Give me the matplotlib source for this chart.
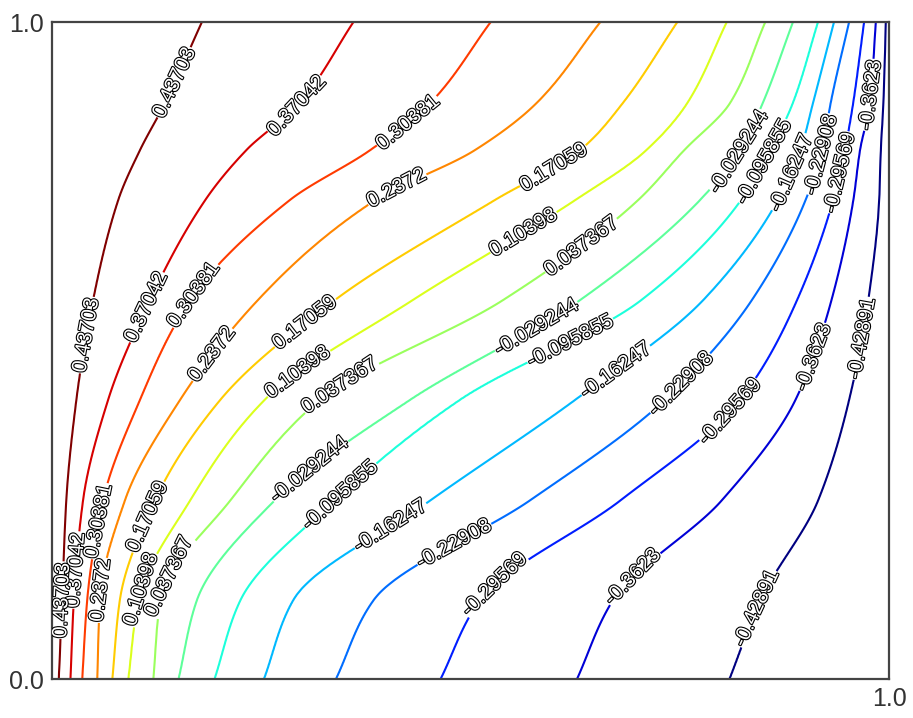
import numpy as np
import matplotlib
matplotlib.use('Agg')
import matplotlib.pyplot as plt
import matplotlib.patheffects as pe

plt.rcParams['font.family'] = ['Liberation Sans', 'DejaVu Sans']

# contour levels (as printed on the labels)
levels = [-0.42891, -0.3623, -0.29569, -0.22908, -0.16247, -0.095855,
          -0.029244, 0.037367, 0.10398, 0.17059, 0.2372, 0.30381,
          0.37042, 0.43703]

row_y = [0.0, 0.120, 0.272, 0.425, 0.577, 0.729, 0.805, 0.877, 1.0]

# x crossings per row, ordered from the highest level (left) to the lowest (right)
cross_y000 = [0.008, 0.022, 0.036, 0.054, 0.072, 0.091, 0.121, 0.151, 0.194, 0.253, 0.339, 0.464, 0.627, 0.809]
cross_y012 = [0.012, 0.026, 0.042, 0.057, 0.081, 0.103, 0.129, 0.173, 0.225, 0.288, 0.384, 0.511, 0.670, 0.846]
cross_y027 = [0.017, 0.037, 0.061, 0.087, 0.123, 0.165, 0.213, 0.266, 0.338, 0.452, 0.571, 0.679, 0.800, 0.915]
cross_y043 = [0.029, 0.067, 0.105, 0.153, 0.201, 0.254, 0.320, 0.428, 0.487, 0.625, 0.732, 0.822, 0.888, 0.952]
cross_y058 = [0.049, 0.117, 0.165, 0.246, 0.338, 0.431, 0.539, 0.631, 0.704, 0.778, 0.836, 0.890, 0.931, 0.975]
cross_y073 = [0.079, 0.183, 0.284, 0.386, 0.529, 0.625, 0.700, 0.774, 0.823, 0.867, 0.900, 0.933, 0.957, 0.988]
cross_y081 = [0.105, 0.232, 0.380, 0.505, 0.631, 0.710, 0.755, 0.822, 0.858, 0.894, 0.920, 0.947, 0.965, 0.990]
cross_y088 = [0.135, 0.296, 0.452, 0.579, 0.682, 0.759, 0.810, 0.849, 0.885, 0.909, 0.930, 0.957, 0.977, 0.993]
cross_y100 = [0.179, 0.360, 0.524, 0.655, 0.747, 0.806, 0.852, 0.885, 0.915, 0.934, 0.952, 0.970, 0.984, 0.996]

# field values at the left and right border
edge_left = 0.50
edge_right = -0.47

# label centres per level
label_pos = {
    0.43703: [(0.153, 0.904), (0.039, 0.524), (0.012, 0.120)],
    0.37042: [(0.296, 0.868), (0.105, 0.571), (0.028, 0.166)],
    0.30381: [(0.428, 0.843), (0.183, 0.571), (0.054, 0.241)],
    0.2372: [(0.416, 0.737), (0.183, 0.502), (0.061, 0.135)],
    0.17059: [(0.595, 0.790), (0.308, 0.533), (0.123, 0.242)],
    0.10398: [(0.565, 0.676), (0.296, 0.463), (0.111, 0.135)],
    0.037367: [(0.633, 0.658), (0.344, 0.447), (0.147, 0.150)],
    -0.029244: [(0.822, 0.801), (0.581, 0.531), (0.308, 0.318)],
    -0.095855: [(0.854, 0.785), (0.625, 0.498), (0.344, 0.280)],
    -0.16247: [(0.884, 0.770), (0.675, 0.467), (0.404, 0.234)],
    -0.22908: [(0.919, 0.798), (0.753, 0.447), (0.481, 0.204)],
    -0.29569: [(0.938, 0.772), (0.806, 0.412), (0.535, 0.135)],
    -0.3623: [(0.977, 0.889), (0.909, 0.490), (0.703, 0.143)],
    -0.42891: [(0.965, 0.519), (0.846, 0.105)],
}


def pchip(xk, yk, x):
    # monotone cubic through the read points
    xk = np.asarray(xk, float)
    yk = np.asarray(yk, float)
    h = np.diff(xk)
    d = np.diff(yk) / h
    m = np.zeros_like(yk)
    for k in range(1, len(xk) - 1):
        if d[k - 1] * d[k] > 0:
            w1 = 2 * h[k] + h[k - 1]
            w2 = h[k] + 2 * h[k - 1]
            m[k] = (w1 + w2) / (w1 / d[k - 1] + w2 / d[k])
    m[0] = d[0]
    m[-1] = d[-1]
    i = np.clip(np.searchsorted(xk, x) - 1, 0, len(xk) - 2)
    t = (x - xk[i]) / h[i]
    h00 = 2 * t**3 - 3 * t**2 + 1
    h10 = t**3 - 2 * t**2 + t
    h01 = -2 * t**3 + 3 * t**2
    h11 = t**3 - t**2
    return h00 * yk[i] + h10 * h[i] * m[i] + h01 * yk[i + 1] + h11 * h[i] * m[i + 1]


crossings = np.array([cross_y000, cross_y012, cross_y027, cross_y043, cross_y058,
                      cross_y073, cross_y081, cross_y088, cross_y100])
lev_desc = np.array(levels[::-1])

# build the field on a grid from the crossing table
xg = np.linspace(0, 1, 600)
yg = np.linspace(0, 1, 500)
cr = np.array([pchip(row_y, crossings[:, i], yg) for i in range(len(levels))])
cr = np.maximum.accumulate(cr, axis=0) + np.arange(len(levels))[:, None] * 1e-6
Z = np.zeros((len(yg), len(xg)))
for j in range(len(yg)):
    xs = np.concatenate([[0.0], cr[:, j], [1.0 + 1e-3]])
    vs = np.concatenate([[edge_left], lev_desc, [edge_right]])
    Z[j] = np.interp(xg, xs, vs)
X, Y = np.meshgrid(xg, yg)

fig = plt.figure(figsize=(9.13, 7.18), dpi=100)
ax = fig.add_axes([0.057, 0.0543, 0.917, 0.915])

cmap = plt.get_cmap('jet')
norm = plt.Normalize(min(levels), max(levels))
for lev in levels:
    cs = ax.contour(X, Y, Z, levels=[lev], colors=[cmap(norm(lev))],
                    linewidths=1.5, linestyles='solid')
    txts = ax.clabel(cs, manual=label_pos[lev], inline=True,
                     inline_spacing=1, fmt='%.5g', fontsize=15, colors='white')
    for t in txts:
        t.set_path_effects([pe.withStroke(linewidth=1.6, foreground='black')])

ax.set_xlim(0, 1)
ax.set_ylim(0, 1)
ax.set_xticks([1.0])
ax.set_xticklabels(['1.0'])
ax.set_yticks([0.0, 1.0])
ax.set_yticklabels(['0.0', '1.0'])
ax.tick_params(length=0, labelsize=18, labelcolor='#333333', pad=6)
for s in ax.spines.values():
    s.set_color('#444444')
    s.set_linewidth(1.6)

fig.savefig('out.png', dpi=100)
